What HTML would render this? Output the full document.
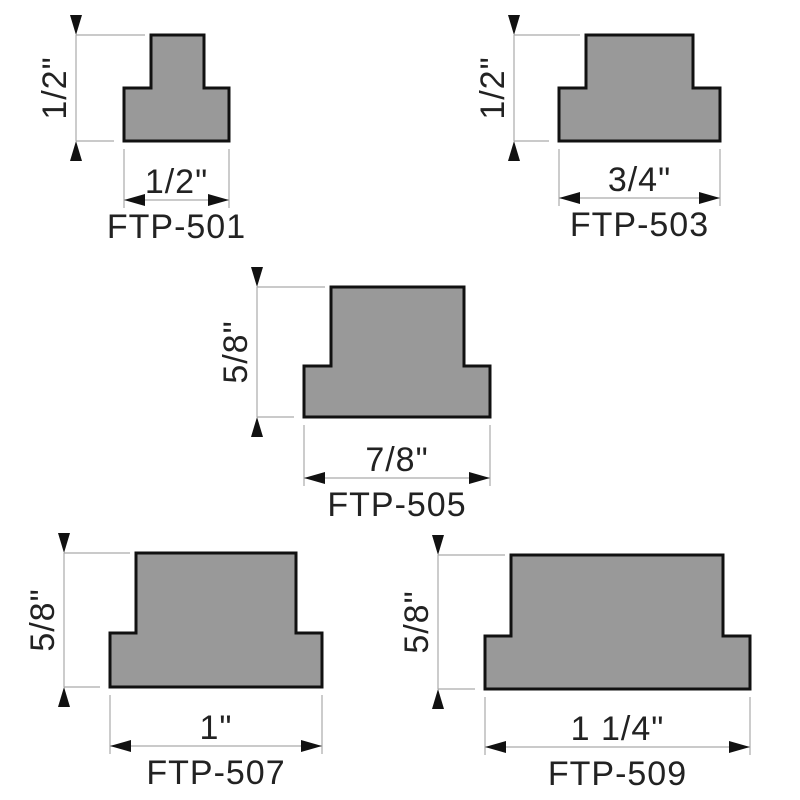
<!DOCTYPE html>
<html><head><meta charset="utf-8"><style>
html,body{margin:0;padding:0;background:#fff}
svg{display:block}
text{font-family:"Liberation Sans",sans-serif;fill:#222;font-size:34px;letter-spacing:1px}
</style></head><body>
<svg id="s" width="800" height="800" viewBox="0 0 800 800" xmlns="http://www.w3.org/2000/svg"></svg>
<script>
var s=document.getElementById('s'),h='';
function P(o){
 var pts=[[o.tl,o.ty],[o.tr,o.ty],[o.tr,o.sy],[o.br,o.sy],[o.br,o.by],[o.bl,o.by],[o.bl,o.sy],[o.tl,o.sy]];
 h+='<polygon points="'+pts.map(p=>p.join(',')).join(' ')+'" fill="#999" stroke="#111" stroke-width="3"/>';
 var g='stroke="#aaa" stroke-width="1.2"';
 h+='<line x1="'+o.dx+'" y1="'+o.ty+'" x2="'+(o.tl-6)+'" y2="'+o.ty+'" '+g+'/>';
 h+='<line x1="'+o.dx+'" y1="'+o.by+'" x2="'+(o.bl-10)+'" y2="'+o.by+'" '+g+'/>';
 h+='<line x1="'+o.dx+'" y1="'+o.ty+'" x2="'+o.dx+'" y2="'+o.by+'" '+g+'/>';
 h+='<polygon points="'+(o.dx-6)+','+(o.ty-20)+' '+(o.dx+6)+','+(o.ty-20)+' '+o.dx+','+o.ty+'" fill="#111"/>';
 h+='<polygon points="'+(o.dx-6)+','+(o.by+20)+' '+(o.dx+6)+','+(o.by+20)+' '+o.dx+','+o.by+'" fill="#111"/>';
 var cy=(o.ty+o.by)/2;
 h+='<text transform="translate('+(o.dx-10)+','+cy+') rotate(-90)" text-anchor="middle">'+o.hl+'</text>';
 h+='<line x1="'+o.bl+'" y1="'+(o.by+8)+'" x2="'+o.bl+'" y2="'+(o.ay+8)+'" '+g+'/>';
 h+='<line x1="'+o.br+'" y1="'+(o.by+8)+'" x2="'+o.br+'" y2="'+(o.ay+8)+'" '+g+'/>';
 h+='<line x1="'+o.bl+'" y1="'+o.ay+'" x2="'+o.br+'" y2="'+o.ay+'" '+g+'/>';
 h+='<polygon points="'+o.bl+','+o.ay+' '+(o.bl+21)+','+(o.ay-6)+' '+(o.bl+21)+','+(o.ay+6)+'" fill="#111"/>';
 h+='<polygon points="'+o.br+','+o.ay+' '+(o.br-21)+','+(o.ay-6)+' '+(o.br-21)+','+(o.ay+6)+'" fill="#111"/>';
 var cx=(o.bl+o.br)/2;
 h+='<text x="'+cx+'" y="'+(o.ay-7)+'" text-anchor="middle">'+o.wl+'</text>';
 h+='<text x="'+cx+'" y="'+(o.ay+38)+'" text-anchor="middle">'+o.nl+'</text>';
}
P({tl:151,tr:204,ty:35,sy:88,bl:124,br:229,by:141,dx:76,ay:200,hl:'1/2"',wl:'1/2"',nl:'FTP-501'});
P({tl:586,tr:693,ty:35,sy:88,bl:559,br:720,by:141,dx:514,ay:198,hl:'1/2"',wl:'3/4"',nl:'FTP-503'});
P({tl:331,tr:464,ty:287,sy:366,bl:304,br:490,by:417,dx:257,ay:478,hl:'5/8"',wl:'7/8"',nl:'FTP-505'});
P({tl:136,tr:296,ty:553,sy:633,bl:110,br:322,by:687,dx:64,ay:746,hl:'5/8"',wl:'1"',nl:'FTP-507'});
P({tl:511,tr:723,ty:555,sy:636,bl:485,br:750,by:689,dx:438,ay:747,hl:'5/8"',wl:'1 1/4"',nl:'FTP-509'});
s.innerHTML=h;
</script>
</body></html>
